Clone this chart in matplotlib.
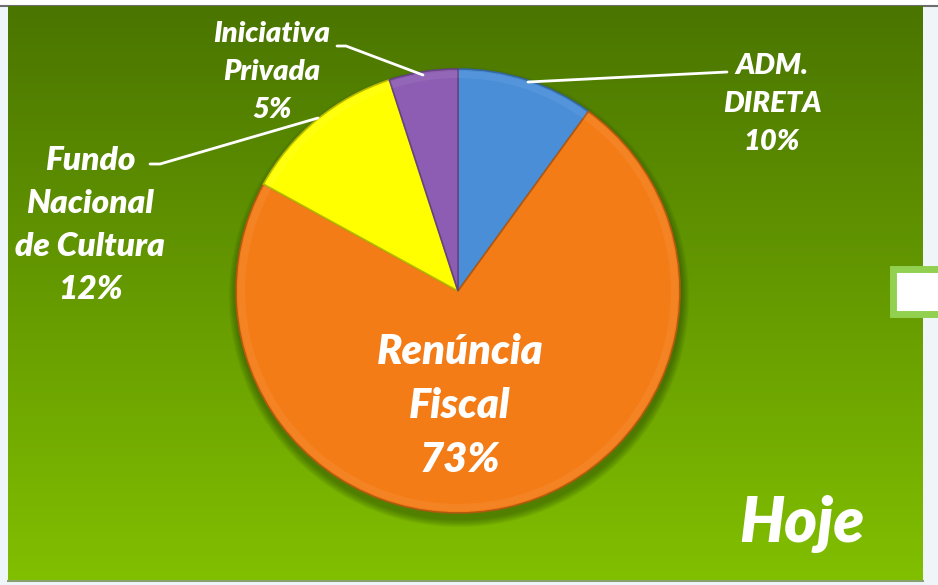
import matplotlib.pyplot as plt
import matplotlib.colors as mcolors
from matplotlib.patches import Rectangle, Circle
import numpy as np

labels = ["ADM.\nDIRETA", "Renúncia\nFiscal", "Fundo\nNacional\nde Cultura", "Iniciativa\nPrivada"]
shares = [10, 73, 12, 5]
colors = ["#4a8ed8", "#f47c16", "#ffff00", "#8d5db3"]

W, H = 938, 585
fig = plt.figure(figsize=(W / 100, H / 100), dpi=100)
ax = fig.add_axes([0, 0, 1, 1])
ax.set_xlim(0, W)
ax.set_ylim(0, H)
ax.set_aspect("equal")
ax.axis("off")


def Y(y):
    # pixel row measured from the top -> data y
    return H - y


# page background and frame
fig.patch.set_facecolor("#eef6fa")
ax.add_patch(Rectangle((0, Y(5)), W, 5, color="white", zorder=0))
ax.plot([0, W], [Y(5.5), Y(5.5)], color="#6e6e6e", lw=1.5, zorder=1)
ax.plot([8, 923], [Y(581), Y(581)], color="#8aa070", lw=1.5, zorder=1)

# green vertical gradient panel
top = np.array([74, 117, 0]) / 255
bot = np.array([129, 191, 0]) / 255
t = np.linspace(0, 1, 256)[:, None]
grad = (top[None, :] * (1 - t) + bot[None, :] * t)[:, None, :]
ax.imshow(grad, extent=[8, 923, Y(580), Y(6)], aspect="auto", zorder=1,
          interpolation="bicubic")

# small box on the right edge
ax.add_patch(Rectangle((893, Y(314)), 60, 45, facecolor="white",
                       edgecolor="#92d050", lw=5, zorder=2))

cx, cy, r = 458, Y(291), 222

# soft shadow under the pie
for k in range(10):
    ax.add_patch(Circle((cx + 1, cy - 6), r + 1 + k * 0.8, color="#1f3a00",
                        alpha=0.05, lw=0, zorder=2))

wedges, _ = ax.pie(shares, colors=colors, startangle=90, counterclock=False,
                   center=(cx, cy), radius=r, frame=True,
                   wedgeprops=dict(lw=1.2, zorder=3))
for w, c in zip(wedges, colors):
    rgb = np.array(mcolors.to_rgb(c))
    w.set_edgecolor(rgb * 0.72)
    w.set_zorder(3)

# faint bevel highlight along the rim
ax.pie(shares, colors=["white"] * 4, startangle=90, counterclock=False,
       center=(cx, cy), radius=r - 2, frame=True,
       wedgeprops=dict(width=7, lw=0, alpha=0.06, zorder=4))
ax.set_xlim(0, W)
ax.set_ylim(0, H)
ax.axis("off")

font = dict(family="Lato", weight="heavy", style="italic", color="white",
            ha="center", va="center", linespacing=1.58)

ax.text(772, Y(104), labels[0] + f"\n{shares[0]}%", fontsize=21, zorder=6, **font)
ax.text(460, Y(406), labels[1] + f"\n{shares[1]}%", fontsize=30, zorder=6,
        **dict(font, linespacing=1.5))
ax.text(90, Y(225), labels[2] + f"\n{shares[2]}%", fontsize=24, zorder=6, **font)
ax.text(272, Y(72), labels[3] + f"\n{shares[3]}%", fontsize=21, zorder=6, **font)
ax.text(802, Y(524), "Hoje", fontsize=45, zorder=6, **font)

# leader lines
lead = dict(color="white", lw=2, zorder=5, solid_capstyle="round")
ax.plot([528, 727], [Y(82), Y(72)], **lead)
ax.plot([337, 346, 423], [Y(46), Y(46), Y(75)], **lead)
ax.plot([150, 160, 318], [Y(164), Y(164), Y(118)], **lead)

fig.savefig("out.png", dpi=100, facecolor=fig.get_facecolor())
